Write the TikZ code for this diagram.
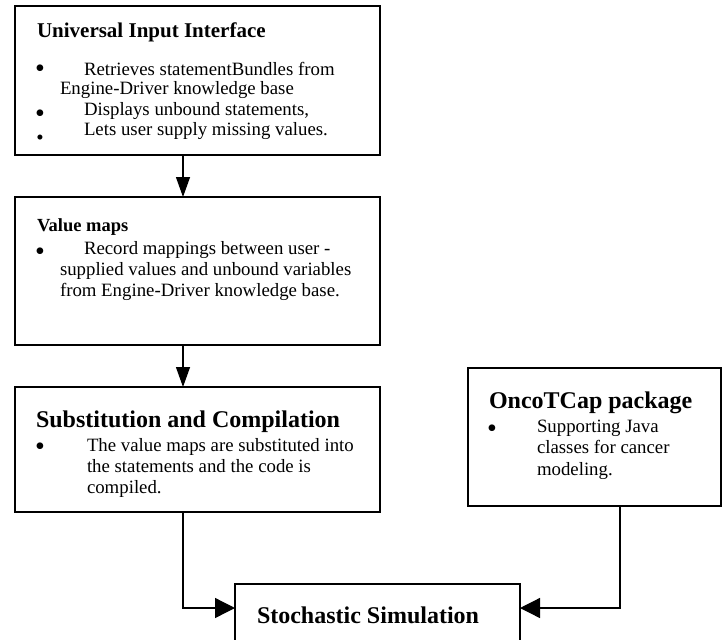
\documentclass[tikz,border=0pt]{standalone}
\usepackage{fontspec}
\setmainfont{Liberation Serif}
\usetikzlibrary{arrows.meta}
\begin{document}
\begin{tikzpicture}[x=1pt,y=-1pt,
  box/.style={draw,line width=1.8pt,rectangle,inner sep=0pt,outer sep=0pt},
  arr/.style={line width=1.3pt,-{Triangle[length=20pt,width=14pt]}},
  harr/.style={line width=1.3pt,-{Triangle[length=20pt,width=20pt]}},
  txt/.style={anchor=base west,inner sep=0pt,outer sep=0pt,font=\fontsize{18.8}{20}\selectfont},
  bul/.style={anchor=base,inner sep=0pt,outer sep=0pt,text height=9pt,text depth=0pt,font=\fontsize{28}{30}\selectfont},
  ttl/.style={anchor=base west,inner sep=0pt,outer sep=0pt,font=\fontsize{21}{24}\selectfont\bfseries},
  ttlsmall/.style={anchor=base west,inner sep=0pt,outer sep=0pt,font=\fontsize{18.5}{22}\selectfont\bfseries},
  ttlbig/.style={anchor=base west,inner sep=0pt,outer sep=0pt,font=\fontsize{24}{28}\selectfont\bfseries}]
\clip (0,0) rectangle (727,639);
\fill[white] (0,0) rectangle (727,639);
% boxes
\node[box,minimum width=365pt,minimum height=149pt] (uii) at (197.5,80.5) {};
\node[box,minimum width=365pt,minimum height=148pt] (vm) at (197.5,271) {};
\node[box,minimum width=365pt,minimum height=125pt] (sc) at (197.5,449.5) {};
\node[box,minimum width=253pt,minimum height=138pt] (onco) at (594.5,437) {};
\node[box,minimum width=285pt,minimum height=76pt] (stoch) at (377.5,622) {};
% box 1 text
\node[ttl] (t1) at (37,38) {Universal Input Interface};
\node[bul] (b11) at (40,77.5) {•};
\node[txt] (l11) at (84,76) {Retrieves statementBundles from};
\node[txt] (l12) at (60,95) {Engine-Driver knowledge base};
\node[bul] (b12) at (40,122.5) {•};
\node[txt] (l13) at (84,116) {Displays unbound statements,};
\node[bul,font=\fontsize{21}{24}\selectfont,text height=7pt] (b13) at (40,145) {•};
\node[txt] (l14) at (84,136) {Lets user supply missing values.};
% box 2 text
\node[ttlsmall] (t2) at (37,231) {Value maps};
\node[bul] (b21) at (40,260.5) {•};
\node[txt] (l21) at (84,254) {Record mappings between user -};
\node[txt] (l22) at (60,275) {supplied values and unbound variables};
\node[txt] (l23) at (60,296) {from Engine-Driver knowledge base.};
% box 3 text
\node[ttlbig] (t3) at (36,427) {Substitution and Compilation};
\node[bul] (b31) at (40,455.5) {•};
\node[txt] (l31) at (87,451) {The value maps are substituted into};
\node[txt] (l32) at (87,472) {the statements and the code is};
\node[txt] (l33) at (87,493) {compiled.};
% onco text
\node[ttlbig] (t4) at (489,408) {OncoTCap package};
\node[bul] (b41) at (492,437.5) {•};
\node[txt] (l41) at (537,432) {Supporting Java};
\node[txt] (l42) at (537,453) {classes for cancer};
\node[txt] (l43) at (537,475) {modeling.};
% stochastic text
\node[ttlbig] (t5) at (257,623) {Stochastic Simulation};
% connectors
\coordinate (ax) at (183,0);
\coordinate (ay) at (0,608);
\coordinate (bx) at (620,0);
\draw[arr] (ax |- uii.south) -- (ax |- vm.north);
\draw[arr] (ax |- vm.south) -- (ax |- sc.north);
\draw[harr] (ax |- sc.south) |- (ay -| stoch.west);
\draw[harr] (bx |- onco.south) |- (ay -| stoch.east);
\end{tikzpicture}
\end{document}
